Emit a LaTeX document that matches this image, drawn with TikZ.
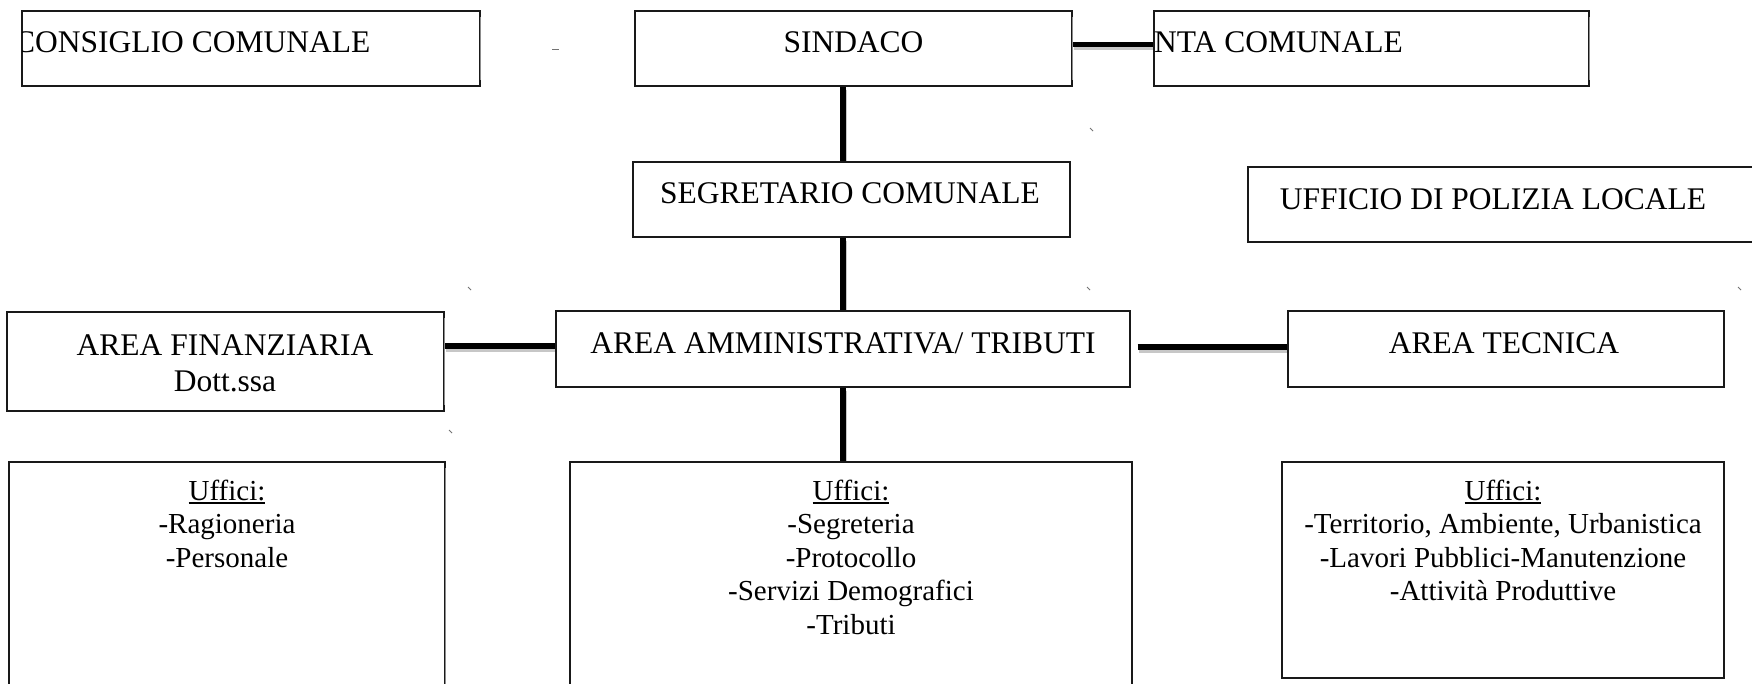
\documentclass[tikz,border=0pt]{standalone}
\usepackage{fontspec}
\usetikzlibrary{calc}
\setmainfont{Liberation Serif}[Ligatures=CommonOff]
\newsavebox\ulbox
\newcommand\myul[1]{\sbox\ulbox{#1}\rlap{\rule[-4pt]{\wd\ulbox}{2pt}}\usebox\ulbox}
\pgfdeclarelayer{background}
\pgfdeclarelayer{paper}
\pgfsetlayers{paper,background,main}
\tikzset{
  bx/.style={draw=black!90, line width=1.4pt, inner sep=0pt, fill=white},
  big/.style={font=\fontsize{31.5}{36}\selectfont, inner sep=0pt, anchor=base},
  small/.style={font=\fontsize{29}{33.5}\selectfont, inner sep=0pt, anchor=base},
  conn/.style={line width=5.5pt, black, preaction={draw=black!22, line width=5.5pt, transform canvas={shift={(1.5pt,-3pt)}}}},
  grayedge/.style={draw=black!45, line width=1.4pt},
  speck/.style={draw=black!55, line width=0.9pt}
}
\begin{document}
\begin{tikzpicture}[x=1pt,y=-1pt]
\useasboundingbox (0,0) rectangle (1752,683);
\clip (0,0) rectangle (1752,683);
\begin{pgfonlayer}{paper}
\fill[white] (0,0) rectangle (1752,683);
\end{pgfonlayer}

% boxes
\node[bx, minimum width=458pt, minimum height=75pt] (cons) at (251,48.5) {};
\node[bx, minimum width=437pt, minimum height=75pt] (sind) at (853.5,48.5) {};
\node[bx, minimum width=435pt, minimum height=75pt] (giun) at (1371.5,48.5) {};
\node[bx, minimum width=437pt, minimum height=75pt] (segr) at (851.5,199.5) {};
\node[bx, minimum width=562pt, minimum height=75pt] (pol) at (1529,204.5) {};
\node[bx, minimum width=437pt, minimum height=99pt] (fin) at (225.5,361.5) {};
\node[bx, minimum width=574pt, minimum height=76pt] (amm) at (843,349) {};
\node[bx, minimum width=436pt, minimum height=76pt] (tec) at (1506,349) {};
\node[bx, minimum width=436pt, minimum height=258pt] (uf1) at (227,591) {};
\node[bx, minimum width=562pt, minimum height=258pt] (uf2) at (851,591) {};
\node[bx, minimum width=442pt, minimum height=216pt] (uf3) at (1503,570) {};

% lighter right edges
\foreach \n in {cons,sind,giun,fin,uf1}
  \draw[grayedge] ([yshift=-7pt]\n.north east) -- ([yshift=7pt]\n.south east);

% connectors
\begin{pgfonlayer}{background}
\draw[conn] ([yshift=4pt]sind.east) -- ([yshift=4pt]giun.west);
\draw[conn] (amm.north |- sind.south) -- (amm.north |- segr.north);
\draw[conn] (amm.north |- segr.south) -- (amm.north);
\draw[conn] (amm.south) -- (amm.south |- uf2.north);
\draw[conn] ($(fin.east |- amm.west)+(0,-3)$) -- ($(amm.west)+(0,-3)$);
\draw[conn] ($(amm.east)+(7,-2)$) -- ($(tec.west)+(0,-2)$);
\end{pgfonlayer}

% texts
\begin{scope}
  \clip (22,11) rectangle (480,86);
  \node[big, anchor=base west] (tcons) at (14,52.5) {CONSIGLIO COMUNALE};
\end{scope}
\node[big] (tsind) at (853.5,52.5) {SINDACO};
\node[big, anchor=base west] (tgiun) at (1154,52.5) {NTA COMUNALE};
\node[big] (tsegr) at (850,203) {SEGRETARIO COMUNALE};
\node[big] (tpol) at (1493,209) {UFFICIO DI POLIZIA LOCALE};
\node[big] (tfin1) at (225,355) {AREA FINANZIARIA};
\node[big] (tfin2) at (225,391) {Dott.ssa};
\node[big] (tamm) at (843,353) {AREA AMMINISTRATIVA/ TRIBUTI};
\node[big] (ttec) at (1504,353) {AREA TECNICA};

\node[small] (a0) at (227,500) {\myul{Uffici:}};
\node[small] (a1) at (227,533.5) {-Ragioneria};
\node[small] (a2) at (227,567) {-Personale};

\node[small] (b0) at (851,500) {\myul{Uffici:}};
\node[small] (b1) at (851,533.5) {-Segreteria};
\node[small] (b2) at (851,567) {-Protocollo};
\node[small] (b3) at (851,600.5) {-Servizi Demografici};
\node[small] (b4) at (851,634) {-Tributi};

\node[small] (c0) at (1503,500) {\myul{Uffici:}};
\node[small] (c1) at (1503,533.5) {-Territorio, Ambiente, Urbanistica};
\node[small] (c2) at (1503,567) {-Lavori Pubblici-Manutenzione};
\node[small] (c3) at (1503,600.5) {-Attività Produttive};

% tiny stray marks
\draw[speck] (552,49) -- (559,49);
\draw[speck] (1090,128) -- (1093,131);
\draw[speck] (468,287) -- (471,290);
\draw[speck] (1087,287) -- (1090,290);
\draw[speck] (1738,287) -- (1741,290);
\draw[speck] (449,430) -- (452,433);
\end{tikzpicture}
\end{document}
